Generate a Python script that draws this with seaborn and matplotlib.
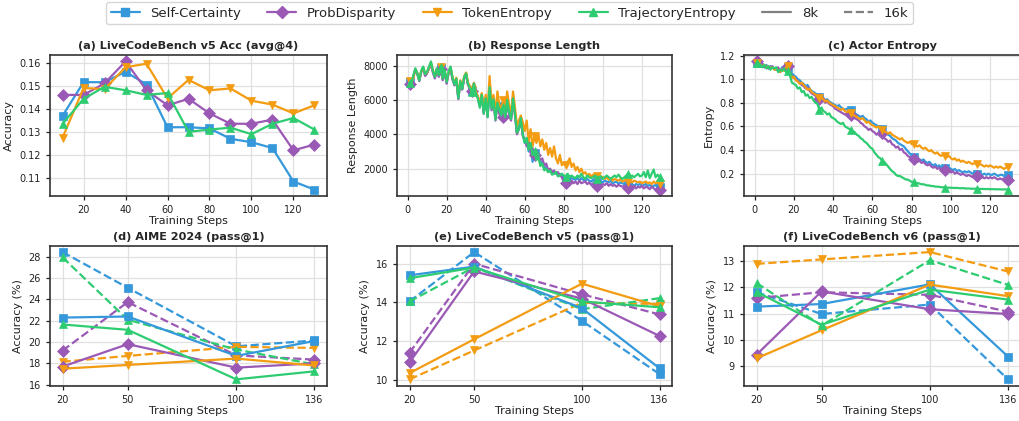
import numpy as np
import pandas as pd
import matplotlib
matplotlib.use("Agg")
import matplotlib.pyplot as plt
from matplotlib.lines import Line2D
import seaborn as sns

# ---------------- data ----------------
methods = ["Self-Certainty", "ProbDisparity", "TokenEntropy", "TrajectoryEntropy"]
colors = {"Self-Certainty": "#3498db", "ProbDisparity": "#9b59b6",
          "TokenEntropy": "#f39c12", "TrajectoryEntropy": "#2ecc71"}
markers = {"Self-Certainty": "s", "ProbDisparity": "D",
           "TokenEntropy": "v", "TrajectoryEntropy": "^"}

# (a) LiveCodeBench v5 Acc (avg@4)
steps_a = [10, 20, 30, 40, 50, 60, 70, 80, 90, 100, 110, 120, 130]
acc_a = {
    "Self-Certainty": [0.137, 0.1515, 0.1515, 0.156, 0.1505, 0.132, 0.132, 0.1315, 0.127, 0.1255, 0.123, 0.1085, 0.105],
    "ProbDisparity": [0.146, 0.146, 0.151, 0.1605, 0.148, 0.1415, 0.1443, 0.138, 0.1335, 0.1335, 0.1353, 0.122, 0.1245],
    "TokenEntropy": [0.1275, 0.149, 0.1485, 0.158, 0.1595, 0.1445, 0.1525, 0.148, 0.1488, 0.1435, 0.1418, 0.138, 0.1415],
    "TrajectoryEntropy": [0.1335, 0.1443, 0.1495, 0.148, 0.146, 0.1468, 0.130, 0.131, 0.1318, 0.129, 0.1335, 0.136, 0.131],
}

# (b) Response length, steps 1..129
steps_bc = list(range(1, 130))
resp_self = [7050, 6900, 7400, 7800, 7550, 7150, 7650, 7900, 7450, 7600,
             7850, 8100, 7650, 7300, 7800, 7400, 7850, 7200, 7700, 7000,
             7600, 7900, 7250, 6900, 7200, 6100, 7050, 6650, 7300, 7500,
             6900, 6700, 6550, 7000, 6450, 6200, 5700, 6350, 5300, 6150,
             5100, 6900, 5600, 6100, 4950, 5900, 5450, 5200, 5650, 5050,
             6050, 5350, 4950, 6150, 5250, 4100, 4350, 4950, 4000, 3500,
             3700, 3000, 3300, 2400, 2900, 2600, 2800, 2300, 2400, 2000,
             2100, 1800, 1900, 1700, 1750, 1800, 1600, 1650, 1700, 1450,
             1400, 1550, 1350, 1450, 1400, 1350, 1450, 1300, 1450, 1350,
             1300, 1400, 1300, 1250, 1350, 1300, 1200, 1300, 1250, 1200,
             1300, 1250, 1200, 1300, 1150, 1200, 1250, 1100, 1200, 1150,
             1100, 1150, 1050, 1150, 1100, 1000, 1100, 1050, 1100, 1000,
             1050, 1100, 1000, 1050, 950, 1000, 1050, 900, 950]
resp_prob = [6950, 6850, 7350, 7750, 7500, 7100, 7650, 7850, 7400, 7550,
             7850, 8050, 7600, 7250, 7750, 7350, 7800, 7150, 7650, 6950,
             7550, 7850, 7200, 6850, 7150, 6050, 7000, 6600, 7250, 7450,
             6850, 6650, 6500, 6900, 6400, 6100, 5650, 6300, 5200, 6100,
             5000, 6800, 5400, 5900, 4800, 5700, 5200, 4900, 5000, 4800,
             5900, 5100, 4800, 6000, 5100, 4000, 4300, 4900, 3900, 3700,
             3300, 3600, 2900, 3200, 2800, 3100, 2700, 2500, 2600, 2200,
             2300, 1900, 2000, 1800, 1900, 1700, 1800, 1600, 1500, 1200,
             1150, 1250, 1100, 1300, 1150, 1250, 1100, 1300, 1150, 1200,
             1250, 1100, 1200, 1050, 1150, 1100, 1000, 1150, 1050, 1100,
             1050, 1150, 1000, 1100, 1000, 1050, 950, 1050, 1000, 950,
             1000, 900, 850, 950, 900, 1000, 850, 950, 900, 1000,
             850, 950, 900, 800, 950, 850, 780, 850, 780]
resp_tok = [7100, 7000, 7350, 7800, 7600, 7200, 7650, 7900, 7550, 7600,
            7900, 8150, 7750, 7400, 7800, 7500, 7900, 7300, 7700, 7100,
            7600, 7900, 7350, 7000, 7300, 6250, 7150, 6750, 7400, 7600,
            7000, 6800, 6600, 7000, 6500, 6200, 5800, 6400, 5500, 6300,
            5300, 7400, 5800, 6300, 5200, 6500, 5700, 5500, 6000, 5300,
            6500, 5700, 5200, 6500, 5600, 4500, 4800, 5100, 4700, 4200,
            4800, 3600, 4300, 3300, 3900, 3500, 4000, 3300, 3700, 3100,
            3500, 2800, 3200, 2700, 3300, 2600, 2300, 2800, 2200, 2300,
            2200, 2400, 2600, 2100, 2300, 1900, 2100, 1800, 2000, 1700,
            1800, 1600, 1700, 1550, 1650, 1500, 1600, 1450, 1550, 1500,
            1400, 1500, 1350, 1450, 1300, 1400, 1350, 1300, 1400, 1250,
            1300, 1350, 1250, 1300, 1200, 1300, 1250, 1200, 1250, 1150,
            1200, 1250, 1150, 1200, 1100, 1250, 1150, 1200, 1100]
resp_traj = [7000, 6950, 7450, 7850, 7550, 7150, 7700, 7950, 7500, 7650,
             7950, 8250, 7700, 7350, 7850, 7450, 7950, 7250, 7750, 7050,
             7650, 7950, 7300, 6900, 7250, 6100, 7100, 6650, 7350, 7550,
             6900, 6700, 6450, 6950, 6350, 6100, 5550, 6300, 5200, 6100,
             5000, 6750, 5500, 6050, 4850, 5850, 5400, 5100, 5600, 5000,
             6000, 5300, 4900, 6100, 5200, 4100, 4300, 4950, 4000, 3500,
             3800, 3100, 3500, 2800, 3000, 2500, 2700, 2150, 2300, 1900,
             2000, 1800, 1900, 1650, 1700, 1800, 1550, 1600, 1700, 1600,
             1500, 1700, 1500, 1600, 1500, 1450, 1600, 1500, 1700, 1500,
             1400, 1600, 1500, 1450, 1500, 1600, 1400, 1500, 1550, 1400,
             1500, 1600, 1500, 1400, 1500, 1600, 1500, 1650, 1500, 1400,
             1500, 1600, 1700, 1500, 1600, 1500, 1600, 1700, 1550, 1600,
             1800, 1500, 1900, 1450, 1700, 1950, 1500, 1650, 1500]
resp_b = {"Self-Certainty": resp_self, "ProbDisparity": resp_prob,
          "TokenEntropy": resp_tok, "TrajectoryEntropy": resp_traj}

# (c) Actor entropy, steps 1..129
ent_self = [1.14, 1.15, 1.12, 1.13, 1.10, 1.12, 1.09, 1.11, 1.10, 1.09,
            1.08, 1.09, 1.06, 1.10, 1.08, 1.11, 1.10, 1.07, 1.05, 1.03,
            1.02, 1.00, 0.99, 0.97, 0.96, 0.94, 0.95, 0.92, 0.90, 0.89,
            0.88, 0.86, 0.85, 0.86, 0.84, 0.82, 0.83, 0.81, 0.80, 0.79,
            0.78, 0.77, 0.78, 0.76, 0.75, 0.74, 0.75, 0.73, 0.74, 0.72,
            0.71, 0.70, 0.69, 0.68, 0.69, 0.67, 0.66, 0.64, 0.65, 0.63,
            0.62, 0.61, 0.60, 0.59, 0.58, 0.56, 0.55, 0.53, 0.52, 0.50,
            0.49, 0.48, 0.46, 0.45, 0.44, 0.43, 0.41, 0.39, 0.37, 0.36,
            0.34, 0.35, 0.33, 0.32, 0.31, 0.32, 0.30, 0.29, 0.30, 0.28,
            0.27, 0.28, 0.26, 0.27, 0.25, 0.26, 0.25, 0.24, 0.25, 0.24,
            0.23, 0.24, 0.22, 0.23, 0.22, 0.21, 0.22, 0.21, 0.22, 0.21,
            0.20, 0.21, 0.20, 0.21, 0.20, 0.19, 0.20, 0.19, 0.20, 0.19,
            0.19, 0.20, 0.19, 0.18, 0.19, 0.19, 0.18, 0.19, 0.19]
ent_prob = [1.15, 1.14, 1.12, 1.13, 1.10, 1.11, 1.09, 1.10, 1.11, 1.09,
            1.08, 1.10, 1.06, 1.09, 1.08, 1.11, 1.11, 1.06, 1.03, 1.01,
            1.00, 0.98, 0.97, 0.95, 0.94, 0.92, 0.93, 0.90, 0.88, 0.87,
            0.86, 0.84, 0.83, 0.84, 0.82, 0.80, 0.81, 0.79, 0.78, 0.77,
            0.75, 0.74, 0.73, 0.72, 0.71, 0.70, 0.71, 0.69, 0.70, 0.68,
            0.67, 0.66, 0.65, 0.63, 0.62, 0.60, 0.59, 0.57, 0.58, 0.56,
            0.55, 0.53, 0.54, 0.52, 0.54, 0.50, 0.49, 0.47, 0.48, 0.45,
            0.44, 0.42, 0.43, 0.40, 0.41, 0.38, 0.37, 0.35, 0.34, 0.33,
            0.32, 0.31, 0.30, 0.31, 0.29, 0.30, 0.28, 0.27, 0.28, 0.26,
            0.25, 0.26, 0.24, 0.25, 0.23, 0.24, 0.23, 0.22, 0.23, 0.21,
            0.22, 0.20, 0.21, 0.20, 0.19, 0.20, 0.19, 0.18, 0.19, 0.18,
            0.17, 0.18, 0.18, 0.17, 0.18, 0.17, 0.16, 0.17, 0.16, 0.17,
            0.16, 0.17, 0.16, 0.15, 0.16, 0.15, 0.16, 0.15, 0.15]
ent_tok = [1.14, 1.13, 1.12, 1.11, 1.12, 1.10, 1.11, 1.09, 1.10, 1.08,
           1.09, 1.07, 1.06, 1.08, 1.07, 1.10, 1.11, 1.05, 1.01, 1.02,
           0.99, 0.98, 0.96, 0.97, 0.95, 0.93, 0.91, 0.92, 0.89, 0.88,
           0.87, 0.85, 0.84, 0.85, 0.83, 0.81, 0.82, 0.80, 0.79, 0.78,
           0.77, 0.76, 0.75, 0.74, 0.75, 0.73, 0.72, 0.73, 0.71, 0.70,
           0.69, 0.68, 0.67, 0.66, 0.67, 0.65, 0.63, 0.64, 0.62, 0.61,
           0.60, 0.59, 0.60, 0.58, 0.57, 0.56, 0.55, 0.54, 0.55, 0.53,
           0.52, 0.51, 0.50, 0.49, 0.50, 0.48, 0.47, 0.46, 0.47, 0.45,
           0.45, 0.44, 0.43, 0.44, 0.42, 0.41, 0.42, 0.40, 0.39, 0.40,
           0.38, 0.37, 0.38, 0.36, 0.35, 0.36, 0.35, 0.34, 0.35, 0.33,
           0.32, 0.33, 0.31, 0.32, 0.30, 0.31, 0.30, 0.29, 0.30, 0.29,
           0.28, 0.29, 0.28, 0.27, 0.28, 0.27, 0.26, 0.27, 0.26, 0.27,
           0.26, 0.25, 0.26, 0.25, 0.26, 0.25, 0.24, 0.25, 0.26]
ent_traj = [1.14, 1.13, 1.12, 1.10, 1.12, 1.09, 1.11, 1.08, 1.10, 1.09,
            1.10, 1.06, 1.08, 1.07, 1.09, 1.06, 1.07, 1.03, 0.97, 0.96,
            0.95, 0.92, 0.93, 0.89, 0.90, 0.86, 0.87, 0.84, 0.85, 0.82,
            0.80, 0.79, 0.74, 0.76, 0.73, 0.72, 0.70, 0.71, 0.68, 0.67,
            0.66, 0.64, 0.63, 0.62, 0.63, 0.60, 0.59, 0.58, 0.57, 0.56,
            0.55, 0.53, 0.52, 0.50, 0.49, 0.47, 0.46, 0.44, 0.42, 0.41,
            0.38, 0.36, 0.34, 0.33, 0.31, 0.30, 0.28, 0.26, 0.24, 0.22,
            0.21, 0.19, 0.18, 0.18, 0.17, 0.16, 0.15, 0.15, 0.14, 0.13,
            0.13, 0.12, 0.12, 0.115, 0.11, 0.11, 0.105, 0.10, 0.10, 0.095,
            0.095, 0.09, 0.09, 0.088, 0.085, 0.085, 0.082, 0.08, 0.082, 0.08,
            0.08, 0.078, 0.08, 0.077, 0.076, 0.078, 0.075, 0.074, 0.075, 0.073,
            0.072, 0.073, 0.071, 0.072, 0.07, 0.071, 0.07, 0.069, 0.07, 0.068,
            0.069, 0.068, 0.067, 0.068, 0.067, 0.066, 0.067, 0.066, 0.065]
ent_c = {"Self-Certainty": ent_self, "ProbDisparity": ent_prob,
         "TokenEntropy": ent_tok, "TrajectoryEntropy": ent_traj}

# bottom row: pass@1 at checkpoints, 8k (solid) and 16k (dashed)
steps_eval = [20, 50, 100, 136]
aime_8k = {"Self-Certainty": [22.3, 22.4, 18.7, 20.1],
           "ProbDisparity": [17.7, 19.8, 17.6, 18.0],
           "TokenEntropy": [17.5, 17.85, 18.45, 17.8],
           "TrajectoryEntropy": [21.65, 21.15, 16.5, 17.25]}
aime_16k = {"Self-Certainty": [28.45, 25.1, 19.6, 20.15],
            "ProbDisparity": [19.2, 23.75, 18.75, 18.35],
            "TokenEntropy": [18.15, 18.7, 19.55, 19.45],
            "TrajectoryEntropy": [27.95, 22.1, 19.3, 17.9]}
lcb5_8k = {"Self-Certainty": [15.4, 15.85, 13.7, 10.6],
           "ProbDisparity": [10.9, 15.6, 14.2, 12.27],
           "TokenEntropy": [10.35, 12.1, 14.97, 13.8],
           "TrajectoryEntropy": [15.25, 15.8, 14.05, 13.75]}
lcb5_16k = {"Self-Certainty": [14.05, 16.6, 13.05, 10.3],
            "ProbDisparity": [11.4, 16.0, 14.42, 13.38],
            "TokenEntropy": [10.03, 11.52, 13.98, 13.92],
            "TrajectoryEntropy": [14.05, 15.82, 13.65, 14.22]}
lcb6_8k = {"Self-Certainty": [11.27, 11.37, 12.12, 9.37],
           "ProbDisparity": [9.44, 11.85, 11.17, 10.99],
           "TokenEntropy": [9.3, 10.37, 12.11, 11.67],
           "TrajectoryEntropy": [11.83, 10.58, 11.92, 11.54]}
lcb6_16k = {"Self-Certainty": [11.82, 10.99, 11.35, 8.5],
            "ProbDisparity": [11.6, 11.82, 11.72, 11.08],
            "TokenEntropy": [12.9, 13.07, 13.35, 12.61],
            "TrajectoryEntropy": [12.17, 10.55, 13.04, 12.1]}

# ---------------- style ----------------
sns.set_theme(style="whitegrid", rc={
    "axes.edgecolor": "#333333",
    "axes.linewidth": 1.2,
    "grid.color": "#e0e0e0",
    "grid.linewidth": 0.9,
    "xtick.bottom": True,
    "ytick.left": True,
    "xtick.color": "#222222",
    "ytick.color": "#222222",
    "xtick.major.size": 3,
    "ytick.major.size": 3,
    "xtick.major.width": 0.9,
    "ytick.major.width": 0.9,
    "xtick.labelsize": 7,
    "ytick.labelsize": 7,
    "axes.labelsize": 8,
    "axes.labelcolor": "#222222",
})
plt.rcParams["font.family"] = ["DejaVu Sans"]

W, H = 1019, 421
fig = plt.figure(figsize=(W / 100, H / 100), dpi=100)

def px_axes(left, right, top, bottom):
    return fig.add_axes([left / W, 1 - bottom / H, (right - left) / W, (bottom - top) / H])

cols = [(50, 327), (397, 672), (744, 1020.5)]
rows = [(55, 196), (245.7, 385.7)]
axs = [[px_axes(c[0], c[1], r[0], r[1]) for c in cols] for r in rows]

title_kw = dict(fontsize=8.1, fontweight="bold", pad=4.5)
LW = 1.6
MS = 6

def plot_line(ax, x, y, m, ls="-", markevery=None):
    df = pd.DataFrame({"x": x, "y": y})
    kw = dict(color=colors[m], marker=markers[m], linestyle=ls, linewidth=LW,
              markersize=MS, markeredgecolor=colors[m], markeredgewidth=0.5)
    if markevery is not None:
        kw["markevery"] = markevery
    sns.lineplot(data=df, x="x", y="y", ax=ax, **kw)

# (a)
ax = axs[0][0]
for m in methods:
    plot_line(ax, steps_a, acc_a[m], m)
ax.set_title("(a) LiveCodeBench v5 Acc (avg@4)", **title_kw)
ax.set_ylabel("Accuracy")
ax.set_xlabel("Training Steps", labelpad=1)
ax.set_xticks([20, 40, 60, 80, 100, 120])

# (b)
ax = axs[0][1]
for m in methods:
    plot_line(ax, steps_bc, resp_b[m], m, markevery=16)
ax.set_title("(b) Response Length", **title_kw)
ax.set_ylabel("Response Length")
ax.set_xlabel("Training Steps", labelpad=1)
ax.set_xticks([0, 20, 40, 60, 80, 100, 120])
ax.set_yticks([2000, 4000, 6000, 8000])

# (c)
ax = axs[0][2]
for m in methods:
    plot_line(ax, steps_bc, ent_c[m], m, markevery=16)
ax.set_title("(c) Actor Entropy", **title_kw)
ax.set_ylabel("Entropy")
ax.set_xlabel("Training Steps", labelpad=1)
ax.set_xticks([0, 20, 40, 60, 80, 100, 120])
ax.set_yticks([0.2, 0.4, 0.6, 0.8, 1.0, 1.2])

# bottom row
bottom = [("(d) AIME 2024 (pass@1)", aime_8k, aime_16k, [16, 18, 20, 22, 24, 26, 28]),
          ("(e) LiveCodeBench v5 (pass@1)", lcb5_8k, lcb5_16k, [10, 12, 14, 16]),
          ("(f) LiveCodeBench v6 (pass@1)", lcb6_8k, lcb6_16k, [9, 10, 11, 12, 13])]
for ax, (title, d8, d16, yt) in zip(axs[1], bottom):
    for m in methods:
        plot_line(ax, steps_eval, d16[m], m, ls="--")
    for m in methods:
        plot_line(ax, steps_eval, d8[m], m, ls="-")
    ax.set_title(title, **title_kw)
    ax.set_ylabel("Accuracy (%)")
    ax.set_xlabel("Training Steps", labelpad=1)
    ax.set_xticks(steps_eval)
    ax.set_yticks(yt)

# legend
handles = [Line2D([], [], color=colors[m], marker=markers[m], linewidth=LW,
                  markersize=MS, markeredgecolor=colors[m]) for m in methods]
handles += [Line2D([], [], color="#808080", linewidth=LW, linestyle="-"),
            Line2D([], [], color="#808080", linewidth=LW, linestyle="--")]
labels = methods + ["8k", "16k"]
fig.legend(handles, labels, loc="upper center", bbox_to_anchor=(0.5, 1.0),
           ncol=6, fontsize=9.5, frameon=True, fancybox=True,
           edgecolor="#cccccc", handlelength=2.2, columnspacing=2.0,
           borderpad=0.35, borderaxespad=0.15)

fig.savefig("out.png", dpi=100)
